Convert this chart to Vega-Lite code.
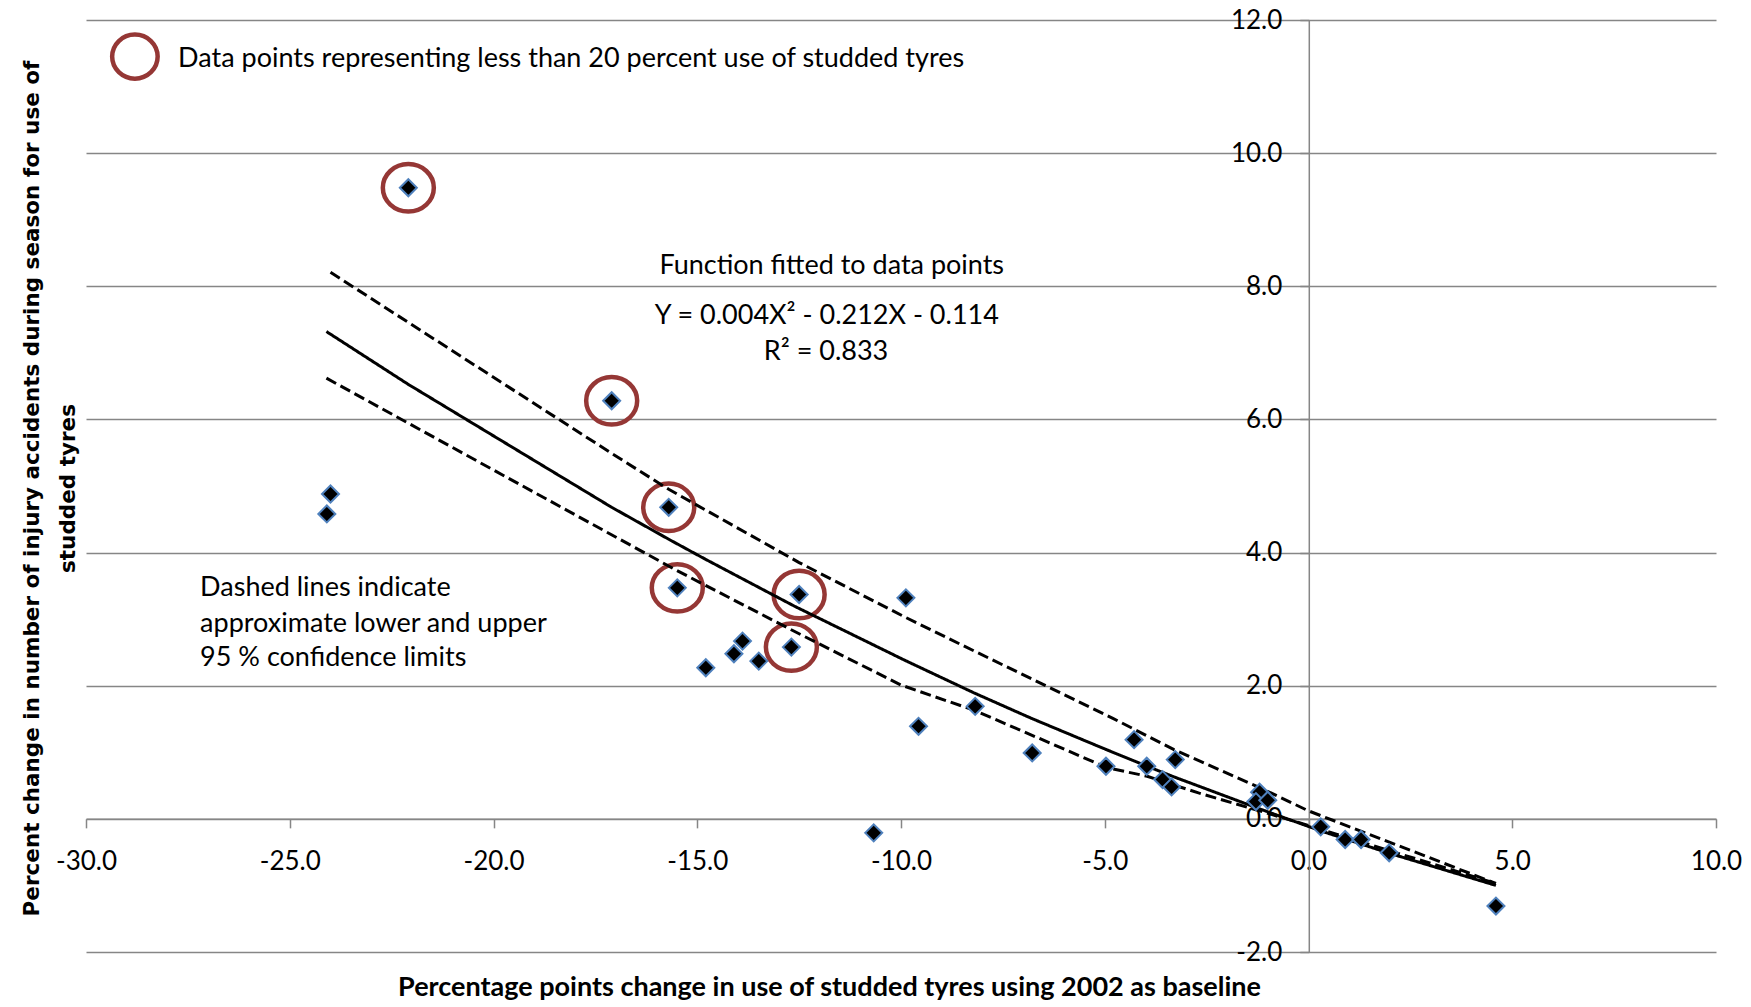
{
  "$schema": "https://vega.github.io/schema/vega-lite/v6.json",
  "width": 1630,
  "height": 932,
  "autosize": {"type": "none"},
  "padding": {"left": 86, "top": 20, "right": 35, "bottom": 55},
  "background": "white",
  "config": {"view": {"stroke": null}, "font": "Lato"},
  "datasets": {
    "points": [
      {"x": -22.09, "y": 9.48, "under20": true},
      {"x": -17.10, "y": 6.28, "under20": true},
      {"x": -15.70, "y": 4.68, "under20": true},
      {"x": -15.49, "y": 3.47, "under20": true},
      {"x": -12.50, "y": 3.37, "under20": true},
      {"x": -12.69, "y": 2.58, "under20": true},
      {"x": -24.00, "y": 4.88, "under20": false},
      {"x": -24.09, "y": 4.58, "under20": false},
      {"x": -14.79, "y": 2.27, "under20": false},
      {"x": -14.10, "y": 2.48, "under20": false},
      {"x": -13.89, "y": 2.67, "under20": false},
      {"x": -13.49, "y": 2.37, "under20": false},
      {"x": -9.88, "y": 3.32, "under20": false},
      {"x": -9.57, "y": 1.39, "under20": false},
      {"x": -8.18, "y": 1.69, "under20": false},
      {"x": -6.78, "y": 0.99, "under20": false},
      {"x": -4.97, "y": 0.79, "under20": false},
      {"x": -4.28, "y": 1.19, "under20": false},
      {"x": -3.97, "y": 0.79, "under20": false},
      {"x": -3.58, "y": 0.59, "under20": false},
      {"x": -3.36, "y": 0.48, "under20": false},
      {"x": -3.27, "y": 0.89, "under20": false},
      {"x": -10.67, "y": -0.21, "under20": false},
      {"x": -1.20, "y": 0.40, "under20": false},
      {"x": -1.29, "y": 0.26, "under20": false},
      {"x": -1.00, "y": 0.28, "under20": false},
      {"x": 0.30, "y": -0.12, "under20": false},
      {"x": 0.90, "y": -0.31, "under20": false},
      {"x": 1.29, "y": -0.31, "under20": false},
      {"x": 1.98, "y": -0.51, "under20": false},
      {"x": 4.60, "y": -1.31, "under20": false}
    ],
    "curves": [
      {"series": "fit", "x": -24.1, "y": 7.32},
      {"series": "fit", "x": -22.1, "y": 6.53},
      {"series": "fit", "x": -17.1, "y": 4.68},
      {"series": "fit", "x": -15.7, "y": 4.20},
      {"series": "fit", "x": -14.8, "y": 3.90},
      {"series": "fit", "x": -13.5, "y": 3.48},
      {"series": "fit", "x": -12.6, "y": 3.19},
      {"series": "fit", "x": -9.9, "y": 2.38},
      {"series": "fit", "x": -8.2, "y": 1.89},
      {"series": "fit", "x": -6.8, "y": 1.51},
      {"series": "fit", "x": -5.0, "y": 1.05},
      {"series": "fit", "x": -4.0, "y": 0.80},
      {"series": "fit", "x": -3.3, "y": 0.63},
      {"series": "fit", "x": -1.2, "y": 0.15},
      {"series": "fit", "x": 0.3, "y": -0.18},
      {"series": "fit", "x": 1.3, "y": -0.38},
      {"series": "fit", "x": 2.0, "y": -0.52},
      {"series": "fit", "x": 4.6, "y": -1.00},
      {"series": "upper", "x": -24.0, "y": 8.21},
      {"series": "upper", "x": -17.1, "y": 5.49},
      {"series": "upper", "x": -15.7, "y": 4.95},
      {"series": "upper", "x": -12.5, "y": 3.85},
      {"series": "upper", "x": -9.9, "y": 3.03},
      {"series": "upper", "x": -8.2, "y": 2.52},
      {"series": "upper", "x": -4.8, "y": 1.51},
      {"series": "upper", "x": -3.3, "y": 1.04},
      {"series": "upper", "x": -1.2, "y": 0.47},
      {"series": "upper", "x": 0.0, "y": 0.12},
      {"series": "upper", "x": 4.6, "y": -0.97},
      {"series": "lower", "x": -24.1, "y": 6.62},
      {"series": "lower", "x": -20.0, "y": 5.24},
      {"series": "lower", "x": -15.5, "y": 3.73},
      {"series": "lower", "x": -12.5, "y": 2.78},
      {"series": "lower", "x": -10.0, "y": 2.01},
      {"series": "lower", "x": -8.2, "y": 1.63},
      {"series": "lower", "x": -4.95, "y": 0.77},
      {"series": "lower", "x": -3.96, "y": 0.64},
      {"series": "lower", "x": -2.7, "y": 0.39},
      {"series": "lower", "x": -1.2, "y": 0.12},
      {"series": "lower", "x": 0.0, "y": -0.10},
      {"series": "lower", "x": 2.0, "y": -0.48},
      {"series": "lower", "x": 4.6, "y": -0.97}
    ],
    "centerNotes": [
      {"x": -11.70, "y": 8.18, "label": "Function fitted to data points"},
      {"x": -11.82, "y": 7.44, "label": "Y = 0.004X² - 0.212X - 0.114"},
      {"x": -11.84, "y": 6.89, "label": "R² = 0.833"}
    ],
    "leftNotes": [
      {"x": -27.2, "y": 3.35, "label": "Dashed lines indicate"},
      {"x": -27.2, "y": 2.81, "label": "approximate lower and upper"},
      {"x": -27.2, "y": 2.29, "label": "95 % confidence limits"},
      {"x": -27.74, "y": 11.3, "label": "Data points representing less than 20 percent use of studded tyres"}
    ],
    "legendRing": [{"x": -28.8, "y": 11.45}]
  },
  "encoding": {
    "x": {
      "field": "x", "type": "quantitative",
      "scale": {"domain": [-30, 10], "nice": false, "zero": false},
      "axis": {
        "title": "Percentage points change in use of studded tyres using 2002 as baseline",
        "values": [-30, -25, -20, -15, -10, -5, 0, 5, 10],
        "offset": -133.14,
        "grid": false,
        "domainColor": "#868686", "domainWidth": 1.5,
        "tickColor": "#868686", "tickWidth": 1.5, "tickSize": 9,
        "labelExpr": "replace(format(datum.value, '.1f'), '−', '-')",
        "labelFont": "Lato", "labelFontSize": 26, "labelColor": "black",
        "labelPadding": 21, "labelBaseline": "top", "labelFlush": false, "labelOverlap": false,
        "titleFont": "Lato", "titleFontWeight": "bold", "titleFontSize": 27, "titleColor": "black",
        "titleX": 743, "titleY": 177, "titleBaseline": "alphabetic", "titleAlign": "center"
      }
    },
    "y": {
      "field": "y", "type": "quantitative",
      "scale": {"domain": [-2, 12], "nice": false, "zero": false},
      "axis": {
        "title": ["Percent change in number of injury accidents during season for use of", "studded tyres"],
        "values": [-2, 0, 2, 4, 6, 8, 10, 12],
        "offset": -1222.8,
        "grid": true, "gridColor": "#868686", "gridWidth": 1.5,
        "domainColor": "#868686", "domainWidth": 1.5,
        "tickColor": "#868686", "tickWidth": 1.5, "tickSize": 9,
        "labelExpr": "replace(format(datum.value, '.1f'), '−', '-')",
        "labelFont": "Lato", "labelFontSize": 26, "labelColor": "black",
        "labelPadding": 18, "labelFlush": false, "labelOverlap": false,
        "titleFont": "DejaVu Sans", "titleFontWeight": "bold", "titleFontSize": 21.5, "titleColor": "black",
        "titleLineHeight": 36,
        "titleX": -1270, "titleY": 468, "titleAngle": -90, "titleBaseline": "alphabetic", "titleAlign": "center"
      }
    }
  },
  "layer": [
    {
      "data": {"name": "points"},
      "transform": [{"filter": "datum.under20"}],
      "mark": {"type": "point", "shape": "M-1,0A1,0.93,0,1,1,1,0A1,0.93,0,1,1,-1,0Z", "size": 2601, "filled": false, "stroke": "#953735", "strokeWidth": 4.5, "opacity": 1}
    },
    {
      "data": {"name": "legendRing"},
      "mark": {"type": "point", "shape": "M-1,0A1,0.97,0,1,1,1,0A1,0.97,0,1,1,-1,0Z", "size": 2070, "filled": false, "stroke": "#953735", "strokeWidth": 4.5, "opacity": 1}
    },
    {
      "data": {"name": "curves"},
      "mark": {"type": "line", "color": "black", "strokeWidth": 3},
      "encoding": {
        "detail": {"field": "series"},
        "strokeDash": {
          "field": "series", "type": "nominal",
          "scale": {"domain": ["fit", "lower", "upper"], "range": [[1, 0], [11, 5], [11, 5]]},
          "legend": null
        }
      }
    },
    {
      "data": {"name": "points"},
      "mark": {"type": "point", "shape": "diamond", "size": 289, "filled": true, "fill": "black", "stroke": "#4F81BD", "strokeWidth": 2, "opacity": 1}
    },
    {
      "data": {"name": "centerNotes"},
      "mark": {"type": "text", "align": "center", "baseline": "alphabetic", "font": "Lato", "fontSize": 27, "color": "black"},
      "encoding": {"text": {"field": "label"}}
    },
    {
      "data": {"name": "leftNotes"},
      "mark": {"type": "text", "align": "left", "baseline": "alphabetic", "font": "Lato", "fontSize": 27, "color": "black"},
      "encoding": {"text": {"field": "label"}}
    }
  ]
}
